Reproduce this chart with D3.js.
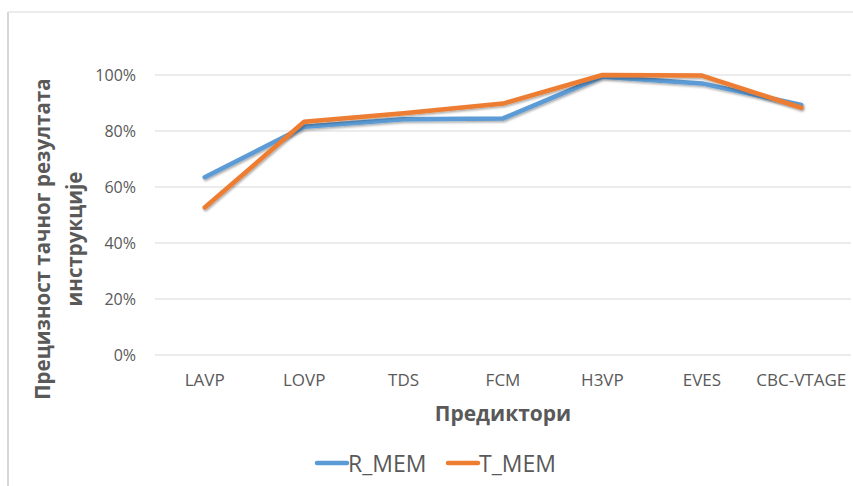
<!DOCTYPE html>
<head>
  <meta charset="utf-8">
  <script src="https://d3js.org/d3.v7.min.js"></script>
  <style>
    body { margin: 0; background: #fff; }
    text { font-family: "Open Sans", "Noto Sans", sans-serif; fill: #595959; }
  </style>
</head>
<body>
  <div id="chart"></div>
  <script>
    // Data
    var categories = ["LAVP", "LOVP", "TDS", "FCM", "H3VP", "EVES", "CBC-VTAGE"];
    var rMem = [0.635, 0.815, 0.842, 0.845, 0.994, 0.97, 0.893];
    var tMem = [0.527, 0.833, 0.863, 0.898, 1.0, 0.998, 0.883];
    var yTicks = [0, 0.2, 0.4, 0.6, 0.8, 1.0];
    var seriesNames = ["R_MEM", "T_MEM"];
    var colours = ["#5b9bd5", "#ed7d31"];

    var width = 853, height = 486;
    var plot = {left: 155, right: 851, top: 75, bottom: 355};

    var svg = d3.select("#chart").append("svg")
        .attr("width", width)
        .attr("height", height);

    // Drop shadow like the Excel line effect
    var defs = svg.append("defs");
    var f = defs.append("filter").attr("id", "shadow")
        .attr("x", "-5%").attr("y", "-20%").attr("width", "110%").attr("height", "140%");
    f.append("feDropShadow")
        .attr("dx", 1).attr("dy", 1.5).attr("stdDeviation", 1)
        .attr("flood-color", "#000").attr("flood-opacity", 0.35);

    // chart frame (left and top edge visible)
    svg.append("line").attr("x1", 8).attr("x2", 8).attr("y1", 12).attr("y2", height)
        .style("stroke", "#c8c8c8").style("stroke-width", 1.5);
    svg.append("line").attr("x1", 8).attr("x2", width).attr("y1", 12).attr("y2", 12)
        .style("stroke", "#e6e6e6").style("stroke-width", 1.5);

    var x = d3.scaleBand().domain(categories).range([plot.left, plot.right]);
    var y = d3.scaleLinear().domain([0, 1]).range([plot.bottom, plot.top]);

    // gridlines
    svg.append("g").selectAll("line").data(yTicks).enter().append("line")
        .attr("x1", plot.left).attr("x2", plot.right)
        .attr("y1", function(d) { return y(d); })
        .attr("y2", function(d) { return y(d); })
        .style("stroke", "#d9d9d9").style("stroke-width", 1);

    // y axis
    var yAxis = svg.append("g")
        .attr("transform", "translate(" + plot.left + ",0)")
        .call(d3.axisLeft(y).tickValues(yTicks).tickFormat(d3.format(".0%")).tickSize(0).tickPadding(19));
    yAxis.select(".domain").remove();
    yAxis.selectAll("text").style("font-size", "16px").style("fill", "#595959")
        .style("font-family", "'Open Sans', sans-serif");

    // x axis
    var xAxis = svg.append("g")
        .attr("transform", "translate(0," + plot.bottom + ")")
        .call(d3.axisBottom(x).tickSize(0).tickPadding(19));
    xAxis.select(".domain").remove();
    xAxis.selectAll("text").style("font-size", "17px").style("fill", "#595959")
        .style("font-family", "'Open Sans', sans-serif");

    // axis titles
    svg.append("text")
        .attr("x", (plot.left + plot.right) / 2).attr("y", 421)
        .attr("text-anchor", "middle")
        .style("font-size", "21px").style("font-weight", "bold")
        .text("Предиктори");

    var yt = svg.append("text")
        .attr("transform", "translate(0,239) rotate(-90)")
        .attr("text-anchor", "middle")
        .style("font-size", "20.5px").style("font-weight", "bold");
    yt.append("tspan").attr("x", 0).attr("y", 50).text("Прецизност тачног резултата");
    yt.append("tspan").attr("x", 0).attr("y", 82).text("инструкције");

    // lines
    var line = d3.line()
        .x(function(d, i) { return x(categories[i]) + x.bandwidth() / 2; })
        .y(function(d) { return y(d); });

    [rMem, tMem].forEach(function(vals, k) {
        svg.append("path")
            .datum(vals)
            .attr("d", line)
            .attr("filter", "url(#shadow)")
            .style("fill", "none")
            .style("stroke", colours[k])
            .style("stroke-width", 4.5)
            .style("stroke-linejoin", "round")
            .style("stroke-linecap", "round");
    });

    // legend
    var legendX = [317, 448];
    seriesNames.forEach(function(name, k) {
        var g = svg.append("g").attr("transform", "translate(" + legendX[k] + ",463)");
        g.append("line").attr("x1", 0).attr("x2", 30).attr("y1", 0).attr("y2", 0)
            .style("stroke", colours[k]).style("stroke-width", 4.5)
            .style("stroke-linecap", "round");
        g.append("text").attr("x", 31).attr("y", 8.5)
            .style("font-size", "23px")
            .text(name);
    });
  </script>
</body>
